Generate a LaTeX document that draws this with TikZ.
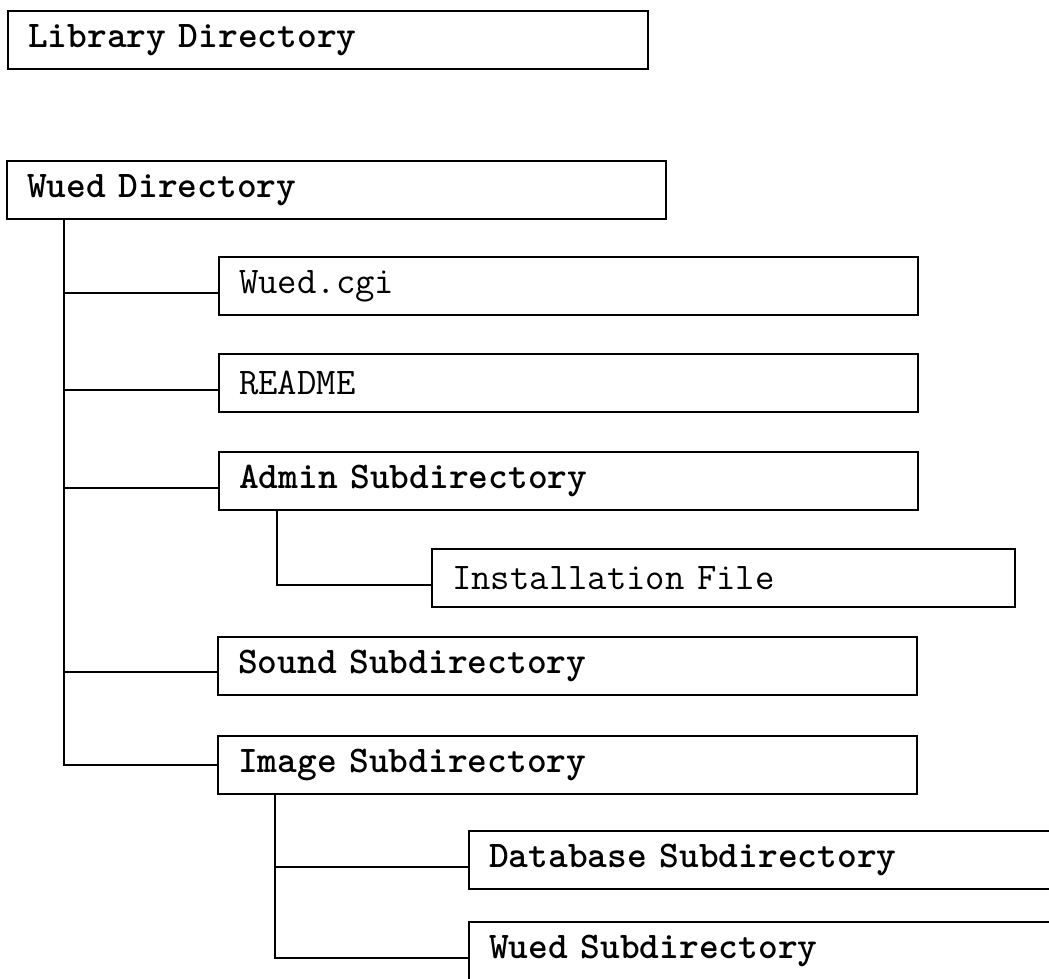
\documentclass[tikz,border=0pt]{standalone}
\usetikzlibrary{positioning}

\begin{document}
\begin{tikzpicture}[x=0.5pt,y=-0.5pt,
    dirbox/.style={draw,line width=1.2pt,anchor=north west,minimum height=29pt,
      inner xsep=10pt,text width=#1,align=left,
      font=\fontsize{18.8}{22}\selectfont\ttfamily\bfseries},
    filebox/.style={dirbox=#1,font=\fontsize{18.8}{22}\selectfont\ttfamily},
    link/.style={line width=1.2pt}]
  \clip (0,0) rectangle (1049,979);
  % top level
  \node[dirbox=300pt] (lib) at (7,10) {Library Directory};
  \node[dirbox=309.5pt] (wued) at (6,160) {Wued Directory};
  % contents of the wued directory
  \node[filebox=329.5pt] (cgi) at (218,256) {Wued.cgi};
  \node[filebox=329.5pt] (readme) at (218,353) {README};
  \node[dirbox=329.5pt] (admin) at (218,451) {Admin Subdirectory};
  \node[filebox=271.5pt] (install) at (431,548) {Installation File};
  \node[dirbox=329.5pt] (sound) at (217,636) {Sound Subdirectory};
  \node[dirbox=329.5pt] (image) at (217,735) {Image Subdirectory};
  \node[dirbox=330pt] (dbase) at (468,830) {Database Subdirectory};
  \node[dirbox=330pt] (wsub) at (468,921) {Wued Subdirectory};
  % tree lines
  \draw[link] ([xshift=29pt]wued.south west) |- ([yshift=-3.5pt]cgi.west);
  \draw[link] ([xshift=29pt]wued.south west) |- ([yshift=-3.5pt]readme.west);
  \draw[link] ([xshift=29pt]wued.south west) |- ([yshift=-3.5pt]admin.west);
  \draw[link] ([xshift=29pt]wued.south west) |- ([yshift=-3pt]sound.west);
  \draw[link] ([xshift=29pt]wued.south west) |- (image.west);
  \draw[link] ([xshift=29.5pt]admin.south west) |- ([yshift=-3.5pt]install.west);
  \draw[link] ([xshift=29pt]image.south west) |- ([yshift=-3.5pt]dbase.west);
  \draw[link] ([xshift=29pt]image.south west) |- ([yshift=-3.5pt]wsub.west);
\end{tikzpicture}
\end{document}
